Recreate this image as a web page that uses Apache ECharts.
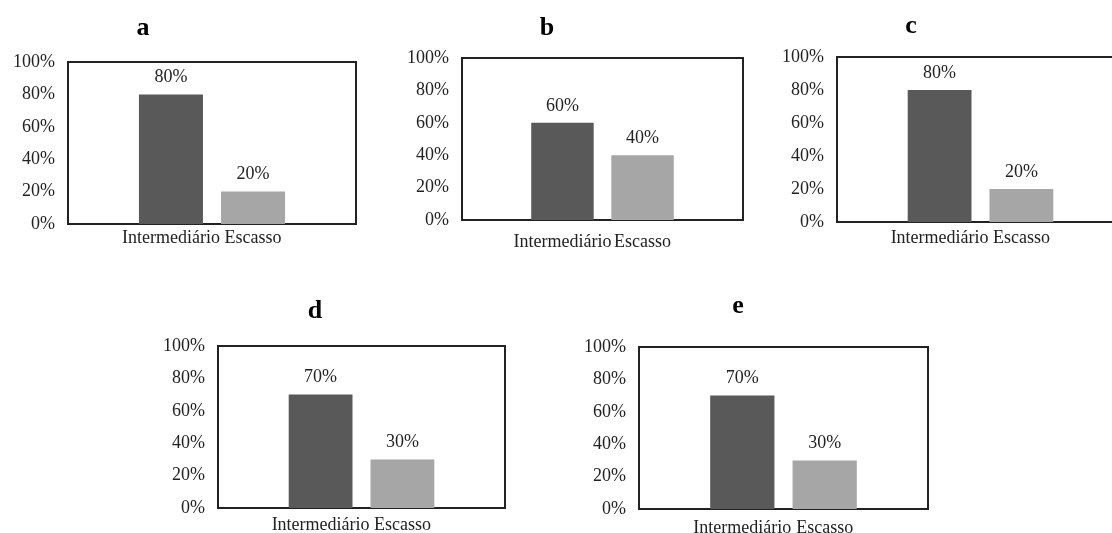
<!DOCTYPE html>
<html>
<head>
<meta charset="utf-8">
<script src="https://cdn.jsdelivr.net/npm/echarts@6/dist/echarts.min.js"></script>
<style>
  html, body { margin: 0; padding: 0; background: #fff; }
  #chart { width: 1112px; height: 533px; }
</style>
</head>
<body>
<div id="chart"></div>
<script>
// ---- data ----
const categories = ['Intermediário', 'Escasso'];
const panelLabels = ['a', 'b', 'c', 'd', 'e'];
const intermediario = [80, 60, 80, 70, 70];
const escasso = [20, 40, 20, 30, 30];
const yTicks = [0, 20, 40, 60, 80, 100];

// ---- layout (plot box in px: left, top, right, bottom) ----
const boxes = [
  [68, 62, 356, 224],
  [462, 58, 743, 220],
  [837, 57, 1124, 222],
  [218, 346, 505, 508],
  [639, 347, 928, 509]
];
const titlePos = [[138, 10], [542, 10], [906, 8], [310, 293], [733, 288]];
const xLabelMargin = [5, 13, 7, 8, 10];

const FONT = '"Liberation Serif", "Times New Roman", serif';
const TXT = '#222';
const DARK = '#595959';
const LIGHT = '#a6a6a6';

const grid = [], xAxis = [], yAxis = [], series = [], title = [];

panelLabels.forEach((lab, i) => {
  const [l, t, r, b] = boxes[i];
  const w = r - l, h = b - t;
  const innerW = w * 0.57;
  const innerL = l + w / 2 - innerW / 2;
  const og = 2 * i, ig = 2 * i + 1;

  grid.push({ left: l, top: t, width: w, height: h, show: true, outerBoundsMode: 'none',
              borderColor: '#222', borderWidth: 2, backgroundColor: 'transparent' });
  grid.push({ left: innerL, top: t, width: innerW, height: h, show: false, outerBoundsMode: 'none' });

  xAxis.push({ type: 'category', gridIndex: og, data: [''], show: false });
  xAxis.push({ type: 'category', gridIndex: ig, data: categories,
    axisLine: { show: false }, axisTick: { show: false },
    axisLabel: { fontFamily: FONT, fontSize: 18, color: TXT, margin: xLabelMargin[i], interval: 0 } });

  yAxis.push({ type: 'value', gridIndex: og, min: yTicks[0], max: yTicks[yTicks.length - 1],
    interval: yTicks[1] - yTicks[0],
    axisLine: { show: false }, axisTick: { show: false }, splitLine: { show: false },
    axisLabel: { fontFamily: FONT, fontSize: 18, color: TXT, margin: 13,
                 formatter: v => v + '%' } });
  yAxis.push({ type: 'value', gridIndex: ig, min: yTicks[0], max: yTicks[yTicks.length - 1],
    show: false });

  series.push({
    type: 'bar', xAxisIndex: ig, yAxisIndex: ig, barWidth: '78%',
    data: [
      { value: intermediario[i], itemStyle: { color: DARK } },
      { value: escasso[i], itemStyle: { color: LIGHT } }
    ],
    label: { show: true, position: 'top', distance: 8, fontFamily: FONT, fontSize: 18,
             color: TXT, formatter: p => p.value + '%' },
    silent: true, animation: false
  });

  title.push({ text: lab, left: titlePos[i][0], top: titlePos[i][1], textAlign: 'center',
    textStyle: { fontFamily: FONT, fontSize: 26, fontWeight: 'bold', color: '#000' } });
});

const chart = echarts.init(document.getElementById('chart'), null, { renderer: 'canvas' });
chart.setOption({ animation: false, backgroundColor: '#fff', title, grid, xAxis, yAxis, series });
</script>
</body>
</html>
